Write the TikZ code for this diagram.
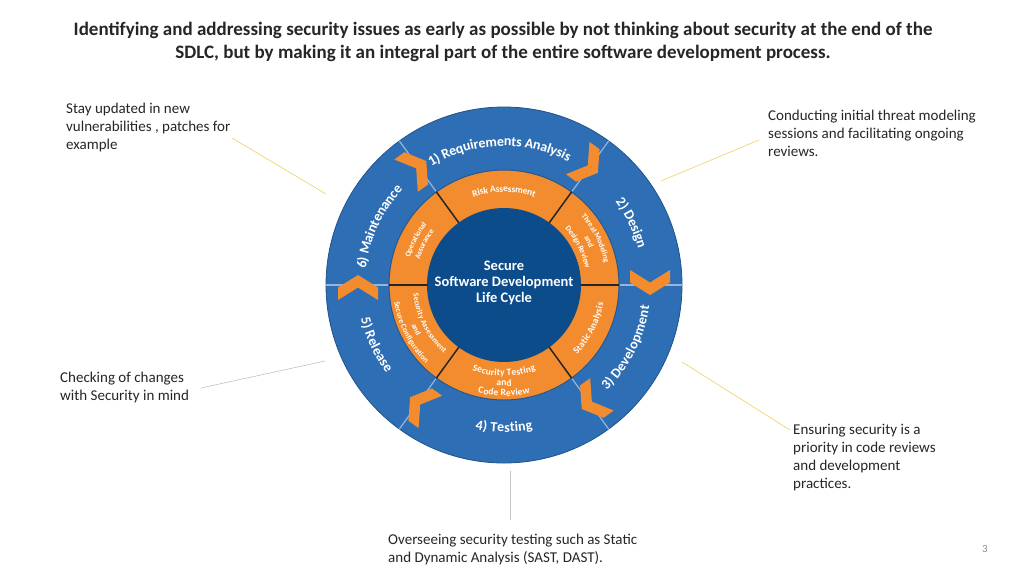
\documentclass[tikz,border=0pt]{standalone}
\usepackage{fontspec}
\setmainfont{Carlito}
\usetikzlibrary{decorations.text}
\definecolor{ringblue}{RGB}{46,110,180}
\definecolor{coreblue}{RGB}{12,76,138}
\definecolor{ringorange}{RGB}{242,140,46}
\definecolor{divblue}{RGB}{150,180,220}
\definecolor{leadyellow}{RGB}{240,208,96}
\definecolor{leadgray}{RGB}{195,195,195}
\tikzset{
    note/.style={anchor=north west,align=left,font=\fontsize{15}{18}\selectfont,inner sep=0pt,text=black!85},
    leadline/.style={leadyellow,line width=0.6pt},
    chevron/.style={fill=ringorange,draw=none}
    }
\newcommand{\outerfont}{\fontsize{14}{14}\selectfont\bfseries\color{white}}
\newcommand{\innerfont}{\fontsize{9.5}{9.5}\selectfont\bfseries\color{white}}
\newcommand{\smallfont}{\fontsize{7.8}{7.8}\selectfont\bfseries\color{white}}
% radius, centre angle, half span, text
\newcommand{\cwlabel}[4]{\path[decorate,decoration={text along path,text align=center,raise=-4pt,text={#4}}] (0,0) ++(#2+#3:#1) arc (#2+#3:#2-#3:#1);}
\newcommand{\ccwlabel}[4]{\path[decorate,decoration={text along path,text align=center,raise=-4pt,text={#4}}] (0,0) ++(#2-#3:#1) arc (#2-#3:#2+#3:#1);}

\begin{document}
\begin{tikzpicture}[line cap=round,line join=round,x=1pt,y=1pt]
\useasboundingbox[fill=white] (0,-576) rectangle (1024,0);
\node[align=center,font=\fontsize{19}{23}\selectfont\bfseries,text=black!85] (title) at (503,-42)
  {Identifying and addressing security issues as early as possible by not thinking about security at the end of the\\
   SDLC, but by making it an integral part of the entire software development process.};
\begin{scope}[shift={(504,-285)}]
\fill[ringblue] (0,0) circle (178);
\draw[ringblue!75!black,line width=0.8pt] (0,0) circle (178);
\foreach \a in {0,54,126,180,234,306}
\draw[divblue,line width=1.2pt] (\a:115) -- (\a:178);
\fill[ringorange] (0,0) circle (115);
\draw[ringblue!80!black,line width=1pt] (0,0) circle (115);
\fill[coreblue] (0,0) circle (77);
\foreach \a in {0,54,126,180,234,306}
\draw[black!85,line width=1.5pt] (\a:77) -- (\a:115);
\foreach \a in {0,54,126,180,234,306}
\fill[chevron,shift={(\a:146)},rotate=\a-90,scale=1.25] (-12,16) -- (-2,16) -- (8,0) -- (-2,-16) -- (-12,-16) -- (-2,0) -- cycle;
\node[align=center,text=white,font=\fontsize{14.5}{16}\selectfont\bfseries] (core) at (0,2) {Secure\\Software Development\\Life Cycle};
% outer ring
\cwlabel{143}{92}{60}{|\outerfont|1) Requirements Analysis}
\cwlabel{143}{26}{40}{|\outerfont|2) Design}
\ccwlabel{143}{-27}{45}{|\outerfont|3) Development}
\ccwlabel{143}{-90}{40}{|\outerfont|4) Testing}
\ccwlabel{143}{205}{40}{|\outerfont|5) Release}
\cwlabel{143}{155}{45}{|\outerfont|6) Maintenance}
% inner ring
\cwlabel{97}{90}{40}{|\innerfont|Risk Assessment}
\cwlabel{107}{27}{40}{|\smallfont|Threat Modeling}
\cwlabel{97}{27}{40}{|\smallfont|and}
\cwlabel{87}{27}{40}{|\smallfont|Design Review}
\ccwlabel{97}{-27}{40}{|\innerfont|Static Analysis}
\ccwlabel{87}{-90}{40}{|\innerfont|Security Testing}
\ccwlabel{97}{-90}{40}{|\innerfont|and}
\ccwlabel{107}{-90}{40}{|\innerfont|Code Review}
\ccwlabel{87}{207}{40}{|\smallfont|Security Assessment}
\ccwlabel{97}{207}{40}{|\smallfont|and}
\ccwlabel{107}{207}{40}{|\smallfont|Secure Configuration}
\cwlabel{102}{153}{40}{|\smallfont|Operational}
\cwlabel{92}{153}{40}{|\smallfont|Assurance}
\end{scope}
% notes
\node[note] (stay) at (66,-103) {Stay updated in new\\vulnerabilities , patches for\\example};
\node[note] (threat) at (768,-110) {Conducting initial threat modeling\\sessions and facilitating ongoing\\reviews.};
\node[note] (check) at (60,-372) {Checking of changes\\with Security in mind};
\node[note] (ensure) at (793,-424) {Ensuring security is a\\priority in code reviews\\and development\\practices.};
\node[note] (oversee) at (388,-534) {Overseeing security testing such as Static\\and Dynamic Analysis (SAST, DAST).};
\node[font=\fontsize{11}{11}\selectfont,text=black!45] (page) at (985,-549) {3};
\coordinate (stayA) at (232,-138);
\coordinate (stayB) at (326,-194);
\coordinate (threatA) at (759,-140);
\coordinate (threatB) at (661,-181);
\coordinate (checkA) at (201,-388);
\coordinate (checkB) at (325,-361);
\coordinate (ensureA) at (790,-430);
\coordinate (ensureB) at (682,-362);
\coordinate (overseeA) at (510,-520);
\coordinate (overseeB) at (510,-471);
\draw[leadline] (stayA) -- (stayB);
\draw[leadline] (threatA) -- (threatB);
\draw[leadgray,line width=0.6pt] (checkA) -- (checkB);
\draw[leadline] (ensureA) -- (ensureB);
\draw[leadgray,line width=0.6pt] (overseeA) -- (overseeB);
\end{tikzpicture}
\end{document}
